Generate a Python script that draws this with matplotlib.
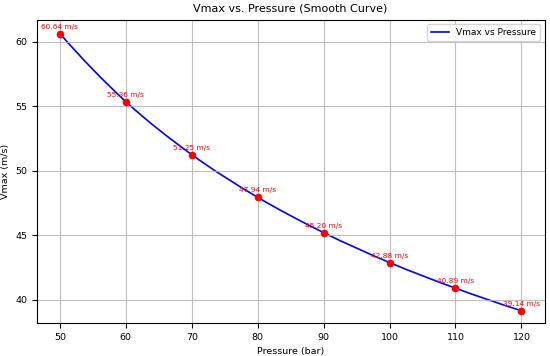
import matplotlib
matplotlib.use("Agg")
import matplotlib.pyplot as plt
from matplotlib.path import Path
from matplotlib.patches import PathPatch
import numpy as np

pressure = [50, 60, 70, 80, 90, 100, 110, 120]
vmax = [60.64, 55.36, 51.25, 47.94, 45.20, 42.88, 40.89, 39.14]

fig, ax = plt.subplots(figsize=(5.5, 3.56), dpi=100)

# smooth curve through the data points (cubic Hermite / Bezier segments)
P = np.column_stack([pressure, vmax]).astype(float)
n = len(P)
T = np.zeros_like(P)
T[1:-1] = (P[2:] - P[:-2]) / 2
T[0] = (-3 * P[0] + 4 * P[1] - P[2]) / 2
T[-1] = (3 * P[-1] - 4 * P[-2] + P[-3]) / 2
verts = [tuple(P[0])]
codes = [Path.MOVETO]
for i in range(n - 1):
    verts += [tuple(P[i] + T[i] / 3), tuple(P[i + 1] - T[i + 1] / 3), tuple(P[i + 1])]
    codes += [Path.CURVE4] * 3
ax.add_patch(PathPatch(Path(verts, codes), fill=False, edgecolor="blue", lw=1.2))
ax.plot([], [], color="blue", lw=1.2, label="Vmax vs Pressure")

ax.scatter(pressure, vmax, color="red", s=20, zorder=3)
for p, v in zip(pressure, vmax):
    ax.annotate(f"{v:.2f} m/s", (p, v), textcoords="offset points", xytext=(0, 3.5),
                ha="center", fontsize=5.3, color="red")
ax.set_title("Vmax vs. Pressure (Smooth Curve)", fontsize=8)
ax.set_xlabel("Pressure (bar)", fontsize=6.8)
ax.set_ylabel("Vmax (m/s)", fontsize=6.8)
ax.tick_params(labelsize=6.8)
ax.grid(True, color="#b0b0b0", alpha=0.8)
ax.legend(fontsize=6.5, loc="upper right")
ax.set_xlim(46.5, 123.5)
ax.set_ylim(38.2, 61.7)
fig.subplots_adjust(left=0.067, right=0.99, top=0.944, bottom=0.093)
fig.savefig("out.png", dpi=100)
